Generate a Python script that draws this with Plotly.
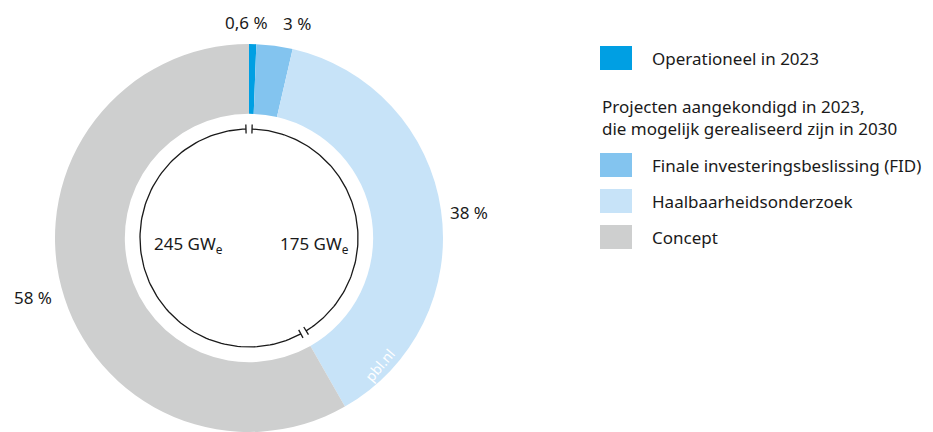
import math
import plotly.graph_objects as go

# ---- data ----
categories = ["Operationeel in 2023", "Finale investeringsbeslissing (FID)",
              "Haalbaarheidsonderzoek", "Concept"]
shares = [0.6, 3.0, 38.0, 58.0]
share_labels = ["0,6 %", "3 %", "38 %", "58 %"]
colors = ["#009FE3", "#83C4EF", "#C7E3F8", "#CECFCF"]
capacity_gw = [175, 245]          # right arc (operational + FID + haalbaarheid), left arc (concept)
capacity_labels = ["175 GW<sub>e</sub>", "245 GW<sub>e</sub>"]
legend_heading = "Projecten aangekondigd in 2023,<br>die mogelijk gerealiseerd zijn in 2030"

W, H = 933, 432
CX, CY, R = 249, 238, 194
FONT = "Noto Sans"
FS = 17

fig = go.Figure()
fig.add_trace(go.Pie(
    values=shares, labels=categories, sort=False, direction="clockwise",
    rotation=0, hole=0.64, textinfo="none", hoverinfo="label+percent",
    marker=dict(colors=colors, line=dict(width=0)),
    domain=dict(x=[(CX - R) / W, (CX + R) / W], y=[(H - CY - R) / H, (H - CY + R) / H]),
    showlegend=False,
))

# inner circle split into two arcs according to capacity
rc = 109
total = sum(capacity_gw)
split = 360 * capacity_gw[0] / total
gap = 1.6
tick = 4.5

def pt(ang, r):
    a = math.radians(ang)
    return CX + r * math.sin(a), CY - r * math.cos(a)

def arc(a0, a1):
    xs, ys = [], []
    n = 120
    for i in range(n + 1):
        x, y = pt(a0 + (a1 - a0) * i / n, rc)
        xs.append(x); ys.append(y)
    return xs, ys

for a0, a1 in [(gap, split - gap), (split + gap, 360 - gap)]:
    xs, ys = arc(a0, a1)
    fig.add_trace(go.Scatter(x=xs, y=ys, mode="lines", line=dict(color="#1a1a1a", width=1.3),
                             hoverinfo="skip", showlegend=False))
    for a in (a0, a1):
        x0, y0 = pt(a, rc - tick)
        x1, y1 = pt(a, rc + tick)
        fig.add_trace(go.Scatter(x=[x0, x1], y=[y0, y1], mode="lines",
                                 line=dict(color="#1a1a1a", width=1.3),
                                 hoverinfo="skip", showlegend=False))

annotations = []
# percentage labels
label_pos = [(246, 22), (297, 23), (469, 212), (33, 297)]
for (x, y), t in zip(label_pos, share_labels):
    annotations.append(dict(x=x, y=y, text=t, showarrow=False, xref="x", yref="y",
                            font=dict(size=FS, color="#1a1a1a", family=FONT)))
# capacity labels
annotations.append(dict(x=314, y=244, text=capacity_labels[0], showarrow=False, xref="x", yref="y",
                        font=dict(size=FS, color="#1a1a1a", family=FONT)))
annotations.append(dict(x=188, y=244, text=capacity_labels[1], showarrow=False, xref="x", yref="y",
                        font=dict(size=FS, color="#1a1a1a", family=FONT)))
# watermark
annotations.append(dict(x=379, y=365, text="pbl.nl", showarrow=False, xref="x", yref="y",
                        textangle=-50, font=dict(size=14, color="white", family=FONT)))

# legend (manual)
shapes = []
sw_y = [58, 165, 201, 237]
for c, y, name in zip(colors, sw_y, categories):
    shapes.append(dict(type="rect", xref="x", yref="y", x0=600, x1=632, y0=y - 12, y1=y + 12,
                       fillcolor=c, line=dict(width=0)))
    annotations.append(dict(x=650, y=y, text=name, showarrow=False, xref="x", yref="y",
                            xanchor="left", font=dict(size=FS, color="#1a1a1a", family=FONT)))
annotations.append(dict(x=600, y=117, text=legend_heading, showarrow=False, xref="x", yref="y",
                        xanchor="left", align="left",
                        font=dict(size=FS, color="#1a1a1a", family=FONT)))

fig.update_layout(
    width=W, height=H, margin=dict(l=0, r=0, t=0, b=0),
    paper_bgcolor="white", plot_bgcolor="rgba(0,0,0,0)",
    xaxis=dict(range=[0, W], visible=False, fixedrange=True, domain=[0, 1]),
    yaxis=dict(range=[H, 0], visible=False, fixedrange=True, domain=[0, 1]),
    annotations=annotations, shapes=shapes, showlegend=False,
)

fig.write_html("out.html", config={"displayModeBar": False},
               post_script="document.body.style.margin='0px';")
